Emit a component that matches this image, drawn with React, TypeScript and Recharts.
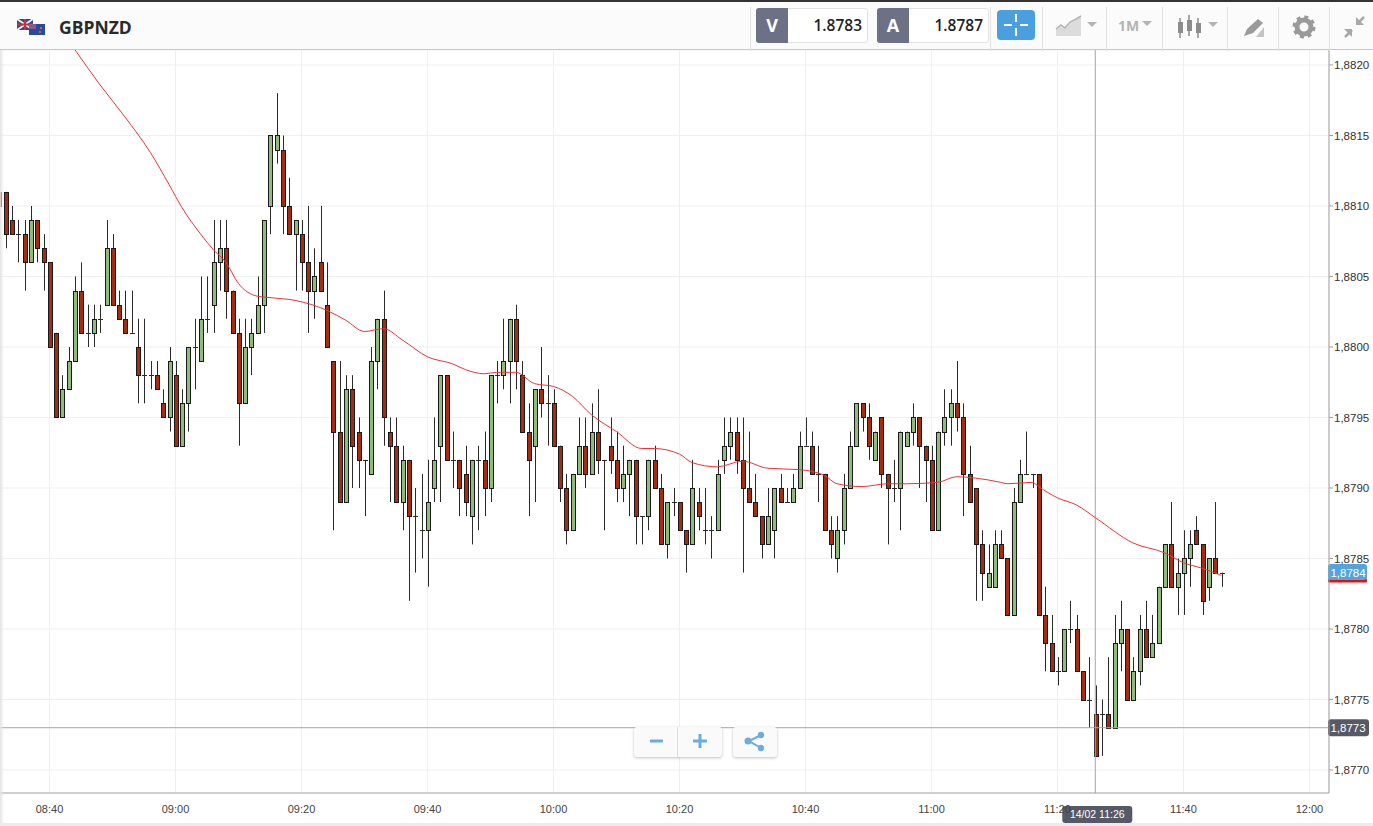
import { Bar, CartesianGrid, ComposedChart, Line, ReferenceLine, XAxis, YAxis } from 'recharts'

// all prices are in pips: 8811 reads as 1,8811
const firstMinute = 512 // 08:32, minutes since midnight, one candle per minute

const opens = [
  8811, 8811, 8809, 8808, 8808, 8806, 8809, 8807, 8806, 8801,
  8795, 8797, 8799, 8804, 8801, 8801, 8802, 8803, 8807, 8803,
  8802, 8801, 8800, 8798, 8798, 8798, 8796, 8795, 8798, 8793,
  8796, 8800, 8799, 8802, 8803, 8806, 8807, 8804, 8801, 8796,
  8800, 8801, 8803, 8810, 8814, 8814, 8810, 8808, 8808, 8806,
  8804, 8806, 8803, 8799, 8794, 8789, 8797, 8794, 8792, 8791,
  8799, 8802, 8794, 8793, 8789, 8792, 8788, 8787, 8787, 8790,
  8793, 8798, 8792, 8792, 8791, 8788, 8792, 8792, 8790, 8798,
  8798, 8799, 8802, 8798, 8794, 8793, 8797, 8796, 8796, 8793,
  8790, 8787, 8791, 8793, 8791, 8794, 8792, 8793, 8792, 8790,
  8791, 8792, 8788, 8788, 8792, 8790, 8786, 8789, 8789, 8787,
  8786, 8789, 8787, 8787, 8787, 8792, 8793, 8794, 8792, 8790,
  8789, 8788, 8786, 8787, 8790, 8789, 8789, 8790, 8793, 8793,
  8791, 8791, 8787, 8785, 8787, 8790, 8793, 8796, 8795, 8792,
  8795, 8791, 8790, 8790, 8793, 8794, 8795, 8793, 8792, 8787,
  8794, 8795, 8796, 8795, 8791, 8790, 8786, 8783, 8783, 8786,
  8785, 8781, 8789, 8791, 8791, 8791, 8781, 8779, 8777, 8777,
  8780, 8780, 8777, 8775, 8774, 8774, 8774, 8773, 8779, 8780,
  8775, 8777, 8780, 8778, 8779, 8783, 8786, 8783, 8784, 8785,
  8787, 8786, 8783, 8785, 8784,
]
const highs = [
  8811, 8811, 8810, 8809, 8809, 8810, 8809, 8808, 8806, 8801,
  8798, 8800, 8805, 8806, 8803, 8803, 8803, 8809, 8808, 8804,
  8804, 8804, 8802, 8802, 8799, 8799, 8797, 8800, 8799, 8797,
  8800, 8802, 8805, 8805, 8809, 8809, 8809, 8804, 8802, 8802,
  8802, 8805, 8809, 8815, 8818, 8815, 8812, 8809, 8809, 8810,
  8807, 8810, 8806, 8799, 8799, 8798, 8798, 8795, 8792, 8800,
  8802, 8804, 8795, 8795, 8793, 8792, 8790, 8791, 8792, 8795,
  8798, 8798, 8794, 8792, 8793, 8792, 8793, 8794, 8798, 8799,
  8802, 8802, 8803, 8799, 8796, 8797, 8800, 8798, 8797, 8793,
  8791, 8791, 8795, 8795, 8796, 8797, 8792, 8795, 8794, 8793,
  8792, 8792, 8788, 8792, 8793, 8791, 8789, 8790, 8789, 8787,
  8792, 8790, 8790, 8788, 8792, 8795, 8795, 8795, 8795, 8794,
  8791, 8788, 8790, 8790, 8791, 8790, 8791, 8794, 8795, 8794,
  8793, 8791, 8788, 8788, 8791, 8794, 8796, 8796, 8796, 8794,
  8795, 8791, 8792, 8794, 8794, 8796, 8795, 8793, 8793, 8794,
  8797, 8797, 8799, 8796, 8793, 8790, 8787, 8786, 8787, 8787,
  8785, 8790, 8792, 8794, 8791, 8791, 8783, 8781, 8778, 8780,
  8782, 8781, 8777, 8778, 8776, 8775, 8778, 8781, 8782, 8780,
  8778, 8781, 8782, 8781, 8783, 8786, 8789, 8785, 8787, 8787,
  8788, 8786, 8785, 8789, 8784,
]
const lows = [
  8810, 8807, 8808, 8806, 8804, 8806, 8806, 8804, 8800, 8795,
  8795, 8797, 8799, 8801, 8800, 8800, 8801, 8803, 8803, 8802,
  8801, 8801, 8796, 8796, 8797, 8797, 8795, 8794, 8793, 8793,
  8794, 8797, 8799, 8801, 8801, 8804, 8802, 8801, 8793, 8796,
  8798, 8801, 8801, 8808, 8813, 8808, 8808, 8804, 8804, 8801,
  8802, 8804, 8800, 8787, 8789, 8789, 8790, 8790, 8788, 8791,
  8797, 8793, 8789, 8789, 8787, 8782, 8784, 8785, 8783, 8789,
  8789, 8792, 8790, 8788, 8788, 8786, 8787, 8788, 8789, 8796,
  8797, 8796, 8797, 8794, 8788, 8789, 8795, 8793, 8793, 8789,
  8786, 8787, 8791, 8790, 8791, 8791, 8787, 8791, 8789, 8789,
  8788, 8786, 8786, 8787, 8790, 8786, 8785, 8788, 8787, 8784,
  8786, 8787, 8786, 8785, 8787, 8791, 8792, 8791, 8784, 8789,
  8788, 8785, 8786, 8785, 8789, 8789, 8789, 8790, 8793, 8791,
  8789, 8787, 8785, 8784, 8786, 8790, 8793, 8794, 8792, 8792,
  8790, 8786, 8789, 8787, 8793, 8793, 8790, 8789, 8787, 8787,
  8793, 8793, 8794, 8788, 8789, 8782, 8782, 8783, 8783, 8785,
  8781, 8781, 8789, 8791, 8790, 8781, 8777, 8777, 8776, 8777,
  8779, 8777, 8775, 8773, 8771, 8771, 8773, 8773, 8777, 8775,
  8775, 8776, 8778, 8778, 8779, 8783, 8783, 8781, 8781, 8783,
  8786, 8781, 8782, 8784, 8783,
]
const closes = [
  8810, 8808, 8808, 8808, 8806, 8809, 8807, 8806, 8800, 8795,
  8797, 8799, 8804, 8801, 8801, 8802, 8802, 8807, 8803, 8802,
  8801, 8801, 8798, 8798, 8798, 8797, 8795, 8799, 8793, 8796,
  8800, 8800, 8802, 8802, 8806, 8807, 8804, 8801, 8796, 8800,
  8801, 8803, 8809, 8815, 8815, 8810, 8808, 8809, 8806, 8804,
  8805, 8804, 8800, 8794, 8789, 8797, 8793, 8792, 8792, 8799,
  8802, 8795, 8793, 8789, 8792, 8788, 8788, 8787, 8789, 8792,
  8798, 8792, 8792, 8790, 8789, 8792, 8792, 8790, 8798, 8798,
  8799, 8802, 8799, 8794, 8792, 8797, 8796, 8796, 8793, 8790,
  8787, 8791, 8793, 8791, 8794, 8792, 8792, 8792, 8790, 8791,
  8792, 8788, 8788, 8792, 8790, 8786, 8789, 8789, 8787, 8786,
  8790, 8788, 8787, 8787, 8791, 8793, 8794, 8792, 8790, 8789,
  8788, 8786, 8788, 8790, 8789, 8789, 8790, 8793, 8793, 8791,
  8791, 8787, 8786, 8787, 8790, 8793, 8796, 8795, 8793, 8794,
  8791, 8790, 8790, 8794, 8794, 8795, 8793, 8792, 8787, 8794,
  8795, 8796, 8795, 8791, 8789, 8786, 8784, 8784, 8786, 8785,
  8781, 8789, 8791, 8791, 8791, 8781, 8779, 8777, 8777, 8780,
  8780, 8777, 8775, 8775, 8771, 8774, 8773, 8779, 8780, 8775,
  8777, 8780, 8778, 8779, 8783, 8786, 8783, 8784, 8785, 8786,
  8786, 8782, 8785, 8784, 8784,
]

const maMinutes = [
  524, 528, 532, 536, 539, 541, 544, 546, 548, 550, 553, 555, 559, 564, 567, 570, 573, 576, 580,
  584, 586, 589, 591, 594, 597, 600, 603, 606, 610, 614, 616, 620, 622, 626, 630, 634, 639, 643,
  645, 649, 653, 656, 661, 664, 667, 671, 672, 676, 677, 680, 683, 686, 692, 697, 700, 703, 706,
]
const maValues = [
  8821.1, 8818.6, 8816.3, 8813.8, 8811.5, 8809.9, 8808, 8806.9, 8806, 8804.5, 8803.6, 8803.5,
  8803.3, 8802.6, 8801.9, 8801.1, 8801.3, 8800.5, 8799.3, 8798.8, 8798.4, 8798.1, 8798.2, 8798.2,
  8797.4, 8797.2, 8796.5, 8795.2, 8794, 8792.8, 8792.8, 8792.4, 8791.8, 8791.5, 8791.9, 8791.4,
  8791.3, 8790.9, 8790.3, 8790.1, 8790.3, 8790.3, 8790.4, 8790.8, 8790.7, 8790.4, 8790.3, 8790.4,
  8790.1, 8789.3, 8788.8, 8787.9, 8786.1, 8785.4, 8784.7, 8784.3, 8783.8,
]

const xTicks = [520, 540, 560, 580, 600, 620, 640, 660, 680, 700, 720]
const yTicks = [8770, 8775, 8780, 8785, 8790, 8795, 8800, 8805, 8810, 8815, 8820]

const crossMinute = 686
const crossPrice = 8773
const lastPrice = 8784

const rows = opens.map((open, i) => {
  const minute = firstMinute + i
  const maIndex = maMinutes.indexOf(minute)
  return {
    minute,
    open,
    close: closes[i],
    high: highs[i],
    low: lows[i],
    ma: maIndex >= 0 ? maValues[maIndex] : null,
  }
})

const formatTime = (m: number) =>
  `${String(Math.floor(m / 60)).padStart(2, '0')}:${String(m % 60).padStart(2, '0')}`
const formatPrice = (p: number) => `1,${p}`

function Candle(props: any) {
  const { x, y, width, height, payload } = props
  const { open, close, high, low } = payload
  const cx = Math.round(x + width / 2) + 0.5
  const perPip = height / (high - low)
  const top = Math.round(y + (high - Math.max(open, close)) * perPip) + 0.5
  const bottom = Math.round(y + (high - Math.min(open, close)) * perPip) + 0.5
  const fill = close > open ? '#8fbc7c' : '#a52c10'
  return (
    <g>
      <line x1={cx} x2={cx} y1={y} y2={y + height} stroke="#2a2a2a" />
      {open === close ? (
        <line x1={cx - 2.5} x2={cx + 2.5} y1={top} y2={top} stroke="#2a2a2a" />
      ) : (
        <rect x={cx - 2} y={top} width={4} height={bottom - top} fill={fill} stroke="#1a1a1a" />
      )}
    </g>
  )
}

function PriceTag({ viewBox, text, fill, underline }: any) {
  const y = viewBox.y
  return (
    <g>
      {underline && <rect x={1328} y={y + 6} width={39} height={4} rx={1} fill="#e01010" />}
      <rect x={1328} y={y - 8.5} width={underline ? 39 : 41} height={underline ? 16 : 17} rx={3} fill={fill} />
      <text x={1348} y={y + 4} fill="#fff" fontSize={11.5} textAnchor="middle" fontFamily="Liberation Sans">
        {text}
      </text>
    </g>
  )
}

function TimeTag({ viewBox, text }: any) {
  const x = viewBox.x
  return (
    <g>
      <rect x={x - 33} y={806} width={70} height={17} rx={3} fill="#565a66" />
      <text x={x + 2} y={818} fill="#fff" fontSize={10.5} textAnchor="middle" fontFamily="Liberation Sans">
        {text}
      </text>
    </g>
  )
}

const sep = (x: number) => (
  <div style={{ position: 'absolute', left: x, top: 5, width: 1, height: 44, background: '#e2e2e2' }} />
)

function QuoteBox({ left, letter, value }: { left: number; letter: string; value: string }) {
  return (
    <div
      style={{
        position: 'absolute', left, top: 6, width: 112, height: 35, border: '1px solid #e2e2e2',
        borderRadius: 3, boxSizing: 'border-box', background: '#fff',
      }}
    >
      <div
        style={{
          position: 'absolute', left: -1, top: -1, width: 32, height: 35, background: '#6d7186', color: '#fff',
          borderRadius: '3px 0 0 3px', textAlign: 'center', lineHeight: '35px', fontWeight: 700, fontSize: 18,
        }}
      >
        {letter}
      </div>
      <div
        style={{
          position: 'absolute', right: 5, top: 0, lineHeight: '33px', fontWeight: 600, fontSize: 15.5, color: '#222',
        }}
      >
        {value}
      </div>
    </div>
  )
}

function Header() {
  const grey = '#b4b4b4'
  return (
    <div
      style={{
        position: 'absolute', left: 0, top: 0, width: 1373, height: 50, background: '#fbfbfb',
        borderTop: '2px solid #333', borderBottom: '1px solid #c8c8c8', boxSizing: 'border-box',
        fontFamily: 'Open Sans',
      }}
    >
      <svg style={{ position: 'absolute', left: 16, top: 16 }} width={30} height={18}>
        <rect x={1} y={1} width={16} height={11} fill="#3a4a80" />
        <path d="M1 1L17 12M17 1L1 12" stroke="#eee" strokeWidth={2} />
        <path d="M9 1V12M1 6.5H17" stroke="#c8303a" strokeWidth={2} />
        <rect x={13} y={6} width={16} height={11} fill="#2b4a9c" />
        <rect x={13} y={6} width={7} height={5} fill="#8a5a90" />
        <circle cx={25} cy={10} r={1} fill="#e66" />
        <circle cx={24} cy={14} r={1} fill="#e66" />
      </svg>
      <div
        style={{ position: 'absolute', left: 59, top: 13, fontSize: 17.5, fontWeight: 700, color: '#2a2a2a', lineHeight: '24px' }}
      >
        GBPNZD
      </div>
      {sep(750)}
      <QuoteBox left={756} letter="V" value="1.8783" />
      <QuoteBox left={877} letter="A" value="1.8787" />
      {sep(990)}
      <div style={{ position: 'absolute', left: 997, top: 8, width: 38, height: 30, background: '#4a9fdf', borderRadius: 4 }}>
        <svg width={38} height={30}>
          <path d="M19 4V12M19 18V26M7 15H15M23 15H31" stroke="#fff" strokeWidth={2} />
        </svg>
      </div>
      {sep(1042)}
      <svg style={{ position: 'absolute', left: 1054, top: 12 }} width={44} height={24}>
        <path d="M2 22V15L7 11L11 14L16 8L22 5L27 2V22Z" fill="#dcdcdc" />
        <path d="M2 15L7 11L11 14L16 8L22 5L27 2" stroke={grey} strokeWidth={1.5} fill="none" />
        <path d="M33 8H43L38 13Z" fill={grey} />
      </svg>
      {sep(1106)}
      <div style={{ position: 'absolute', left: 1118, top: 14, fontSize: 14, fontWeight: 700, color: grey, lineHeight: '20px' }}>1M</div>
      <svg style={{ position: 'absolute', left: 1141, top: 18 }} width={12} height={8}>
        <path d="M1 1H11L6 6Z" fill={grey} />
      </svg>
      {sep(1162)}
      <svg style={{ position: 'absolute', left: 1176, top: 12 }} width={44} height={26}>
        <path d="M4 4V24M13 1V22M22 4V24" stroke="#8c8c8c" strokeWidth={1.5} />
        <rect x={2} y={8} width={5} height={11} fill="#8c8c8c" />
        <rect x={11} y={6} width={5} height={11} fill="#8c8c8c" />
        <rect x={20} y={9} width={5} height={10} fill="#8c8c8c" />
        <path d="M32 8H42L37 13Z" fill={grey} />
      </svg>
      {sep(1227)}
      <svg style={{ position: 'absolute', left: 1242, top: 14 }} width={24} height={24}>
        <path d="M2 20L5 13L16 3L21 7L11 17Z" fill="#9a9a9a" />
        <path d="M4 21H22V11L14 21Z" fill="#c4c4c4" />
      </svg>
      {sep(1278)}
      <svg style={{ position: 'absolute', left: 1291, top: 12 }} width={26} height={26}>
        <circle cx={13} cy={13} r={7} fill="none" stroke="#9a9a9a" strokeWidth={5} />
        <circle cx={13} cy={13} r={10} fill="none" stroke="#9a9a9a" strokeWidth={3} strokeDasharray="4 3.85" />
      </svg>
      {sep(1329)}
      <svg style={{ position: 'absolute', left: 1342, top: 12 }} width={24} height={26}>
        <path d="M14 11V3L22 11ZM3 23L10 16M2 15H10V23Z" fill="#a8a8a8" />
        <path d="M3 23L10 16M16 9L22 3" stroke="#a8a8a8" strokeWidth={2.5} />
      </svg>
    </div>
  )
}

function ZoomControls() {
  const blue = '#6cade0'
  const panel = {
    position: 'absolute', top: 727, height: 30, background: '#fafafa', borderRadius: 3,
    boxShadow: '0 1px 3px rgba(0,0,0,0.25)',
  } as const
  return (
    <>
      <div style={{ ...panel, left: 634, width: 88 }}>
        <svg width={88} height={30}>
          <path d="M16 14H29M59 14H73M66 7V21" stroke={blue} strokeWidth={3} />
          <path d="M43.5 0V30" stroke="#dcdcdc" />
        </svg>
      </div>
      <div style={{ ...panel, left: 733, width: 44 }}>
        <svg width={44} height={30}>
          <path d="M28 8L16 14L28 21" stroke={blue} strokeWidth={2} fill="none" />
          <circle cx={15} cy={14} r={3.5} fill={blue} />
          <circle cx={28} cy={8} r={3.2} fill={blue} />
          <circle cx={28} cy={21} r={3.2} fill={blue} />
        </svg>
      </div>
    </>
  )
}

export default function App() {
  return (
    <div
      style={{ position: 'absolute', left: 0, top: 0, width: 1373, height: 826, overflow: 'hidden', background: '#fff' }}
    >
      <ComposedChart width={1373} height={826} data={rows} margin={{ top: 50, right: 0, bottom: 0, left: 0 }}>
        <CartesianGrid stroke="#f0f0f0" />
        <XAxis
          dataKey="minute"
          type="number"
          domain={[512.14, 723.1]}
          allowDataOverflow
          ticks={xTicks}
          tickFormatter={formatTime}
          height={33}
          tickLine={false}
          tickMargin={6}
          stroke="#a8a8a8"
          tick={{ fill: '#444', fontSize: 11, fontFamily: 'Liberation Sans' }}
        />
        <YAxis
          orientation="right"
          type="number"
          domain={[8768.37, 8821.06]}
          allowDataOverflow
          ticks={yTicks}
          tickFormatter={formatPrice}
          width={44}
          tickSize={4}
          tickMargin={1}
          stroke="#a0a0a0"
          tick={{ fill: '#333', fontSize: 11.5, fontFamily: 'Liberation Sans', textAnchor: 'start' }}
        />
        <ReferenceLine
          x={crossMinute}
          stroke="#a6a6a6"
          label={(p: any) => <TimeTag {...p} text="14/02 11:26" />}
        />
        <ReferenceLine
          y={crossPrice}
          stroke="#a6a6a6"
          label={(p: any) => <PriceTag {...p} text={formatPrice(crossPrice)} fill="#565a66" />}
        />
        <Bar
          dataKey={(d: any) => [d.low, d.high]}
          shape={Candle}
          barSize={5}
          isAnimationActive={false}
        />
        <Line
          dataKey="ma"
          type="monotone"
          connectNulls
          dot={false}
          stroke="#e8343a"
          strokeWidth={1}
          isAnimationActive={false}
        />
        <ReferenceLine
          y={lastPrice}
          stroke="none"
          label={(p: any) => <PriceTag {...p} text={formatPrice(lastPrice)} fill="#52a5dc" underline />}
        />
      </ComposedChart>
      <Header />
      <ZoomControls />
      <div
        style={{
          position: 'absolute', left: 0, top: 50, width: 4, height: 776,
          background: 'linear-gradient(to right, #e4e4e4, rgba(255,255,255,0))',
        }}
      />
      <div style={{ position: 'absolute', left: 0, top: 823, width: 1373, height: 3, background: '#ececec' }} />
    </div>
  )
}
